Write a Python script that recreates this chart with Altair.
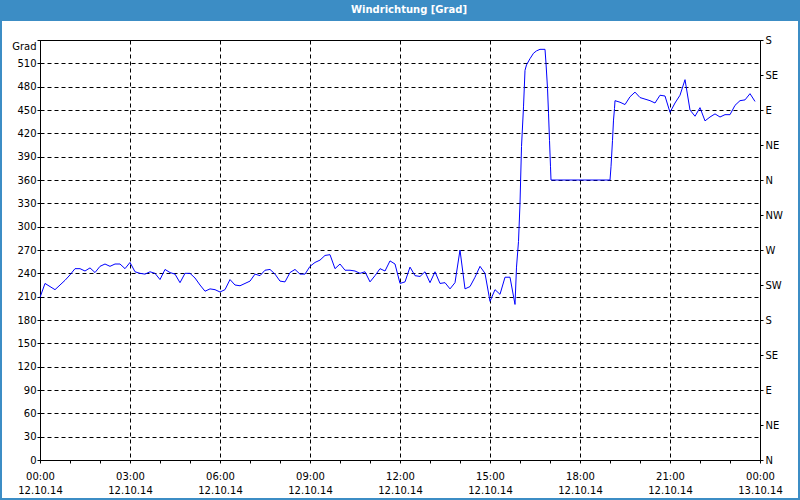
import altair as alt
import pandas as pd

# --- data (time of day, wind direction in degrees) ---
times = [
    "00:00", "00:10", "00:20", "00:30", "00:40", "00:50",
    "01:00", "01:10", "01:20", "01:30", "01:40", "01:50",
    "02:00", "02:10", "02:20", "02:30", "02:40", "02:50",
    "03:00", "03:10", "03:20", "03:30", "03:40", "03:50",
    "04:00", "04:10", "04:20", "04:30", "04:40", "04:50",
    "05:00", "05:10", "05:20", "05:30", "05:40", "05:50",
    "06:00", "06:10", "06:20", "06:30", "06:40", "06:50",
    "07:00", "07:10", "07:20", "07:30", "07:40", "07:50",
    "08:00", "08:10", "08:20", "08:30", "08:40", "08:50",
    "09:00", "09:10", "09:20", "09:30", "09:40", "09:50",
    "10:00", "10:10", "10:20", "10:30", "10:40", "10:50",
    "11:00", "11:10", "11:20", "11:30", "11:40", "11:50",
    "12:00", "12:10", "12:20", "12:30", "12:40", "12:50",
    "13:00", "13:10", "13:20", "13:30", "13:40", "13:50",
    "14:00", "14:10", "14:20", "14:30", "14:40", "14:50",
    "15:00", "15:10", "15:20", "15:30", "15:40", "15:50",
    "15:53", "15:57", "16:00", "16:03", "16:07", "16:10",
    "16:13", "16:20", "16:27", "16:33", "16:40", "16:50",
    "16:52", "16:55", "16:57", "16:59", "17:01", "17:02",
    "19:00", "19:02", "19:05", "19:07", "19:09",
    "19:10", "19:20", "19:30", "19:40", "19:50",
    "20:00", "20:10", "20:20", "20:30", "20:40", "20:50",
    "21:00", "21:10", "21:20", "21:30", "21:40", "21:50",
    "22:00", "22:10", "22:20", "22:30", "22:40", "22:50",
    "23:00", "23:10", "23:20", "23:30", "23:40", "23:50",
]
values = [
    209, 227, 223, 219, 225, 231,
    238, 246, 246, 243, 247, 241,
    249, 252, 249, 252, 252, 246,
    254, 242, 240, 239, 242, 240,
    232, 245, 241, 239, 228, 240,
    240, 234, 225, 217, 220, 219,
    216, 219, 232, 225, 224, 227,
    230, 239, 237, 244, 245, 239,
    230, 229, 241, 245, 239, 239,
    249, 254, 257, 263, 264, 246,
    252, 244, 244, 243, 240, 242,
    229, 237, 246, 243, 256, 252,
    227, 229, 248, 237, 236, 242,
    228, 242, 227, 228, 220, 228,
    270, 220, 223, 235, 249, 240,
    204, 219, 213, 235, 235, 200,
    248, 281, 330, 403, 454, 501,
    508, 516, 523, 526, 528, 528,
    510, 478, 446, 411, 377, 360,
    360, 377, 411, 437, 452,
    462, 460, 457, 467, 473,
    466, 464, 462, 459, 469, 468,
    447, 459, 469, 489, 450, 442,
    453, 436, 441, 445, 441, 444,
    444, 456, 462, 463, 471, 461,
]

x_ticks = list(range(0, 25))          # hourly ticks, labels every 3 h
y_left_ticks = list(range(0, 541, 30))
y_right_ticks = list(range(0, 541, 45))
compass = ["N", "NE", "E", "SE", "S", "SW", "W", "NW"]
date_start = "12.10.14"
date_end = "13.10.14"
title_text = "Windrichtung [Grad]"

hours = [int(t[:2]) + int(t[3:]) / 60 for t in times]
df = pd.DataFrame({"h": hours, "deg": values})
one = pd.DataFrame({"a": [0]})

FONT = "DejaVu Sans"
BLUE = "#3C8DC5"
GRID_DASH = [4, 3]

compass_js = "[" + ",".join(f"'{c}'" for c in compass) + "]"

x_axis = alt.Axis(
    values=x_ticks,
    title=None,
    labelExpr=(
        "datum.value % 3 == 0 ? "
        "[(datum.value == 24 ? '00' : (datum.value < 10 ? '0' : '') + datum.value) + ':00', "
        f"datum.value == 24 ? '{date_end}' : '{date_start}'] : ''"
    ),
    labelFont=FONT, labelFontSize=10, labelColor="black",
    labelLineHeight=14, labelPadding=8,
    labelOverlap=False, labelFlush=False,
    tickSize=3, tickColor="black",
    domainColor="black",
    grid=True, gridColor="black", gridDash=GRID_DASH,
    gridOpacity={"condition": {"test": "datum.value % 3 != 0", "value": 0}, "value": 1},
)
x_enc = alt.X("h:Q", scale=alt.Scale(domain=[0, 24], nice=False, zero=False), axis=x_axis)

y_scale = alt.Scale(domain=[0, 540], nice=False, zero=True)

y_left = alt.Y(
    "deg:Q", scale=y_scale,
    axis=alt.Axis(
        values=y_left_ticks,
        labelExpr="datum.value == 540 ? '' : datum.label",
        title="Grad", titleAngle=0, titleX=-4, titleY=6,
        titleAlign="right", titleBaseline="middle",
        titleFont=FONT, titleFontSize=10, titleFontWeight="normal", titleColor="black",
        labelFont=FONT, labelFontSize=10, labelColor="black", labelPadding=1,
        tickSize=3, tickColor="black", domainColor="black",
        grid=True, gridColor="black", gridDash=GRID_DASH,
    ),
)
y_right = alt.Y(
    "deg:Q", scale=y_scale,
    axis=alt.Axis(
        orient="right",
        values=y_right_ticks,
        labelExpr=f"{compass_js}[(datum.value / 45) % 8]",
        title=None,
        labelFont=FONT, labelFontSize=10, labelColor="black", labelPadding=2,
        tickSize=3, tickColor="black", domainColor="black",
        grid=False,
    ),
)

title_bar = alt.Chart(one).mark_rect(color=BLUE).encode(
    x=alt.value(-40), x2=alt.value(760), y=alt.value(-40), y2=alt.value(-19)
)
border = alt.Chart(one).mark_rect(fillOpacity=0, stroke=BLUE, strokeWidth=2).encode(
    x=alt.value(-39), x2=alt.value(759), y=alt.value(-39), y2=alt.value(459)
)
title = alt.Chart(one).mark_text(
    text=title_text, font=FONT, fontSize=10, fontWeight="bold", color="white",
    align="center", baseline="middle",
).encode(x=alt.value(369), y=alt.value(-30))

line = alt.Chart(df).mark_line(color="#0000FF", strokeWidth=1).encode(x=x_enc, y=y_left)
line_right = alt.Chart(df).mark_line(opacity=0).encode(x=x_enc, y=y_right)

chart = (
    alt.layer(title_bar, border, title, line, line_right)
    .resolve_axis(y="independent")
    .properties(
        width=720, height=420,
        autosize=alt.AutoSizeParams(type="none"),
        padding={"left": 40, "top": 40, "right": 40, "bottom": 40},
        background="white",
    )
    .configure_view(stroke="black", strokeWidth=1)
)

chart.save("out.html", embed_options={"renderer": "svg", "actions": False})
